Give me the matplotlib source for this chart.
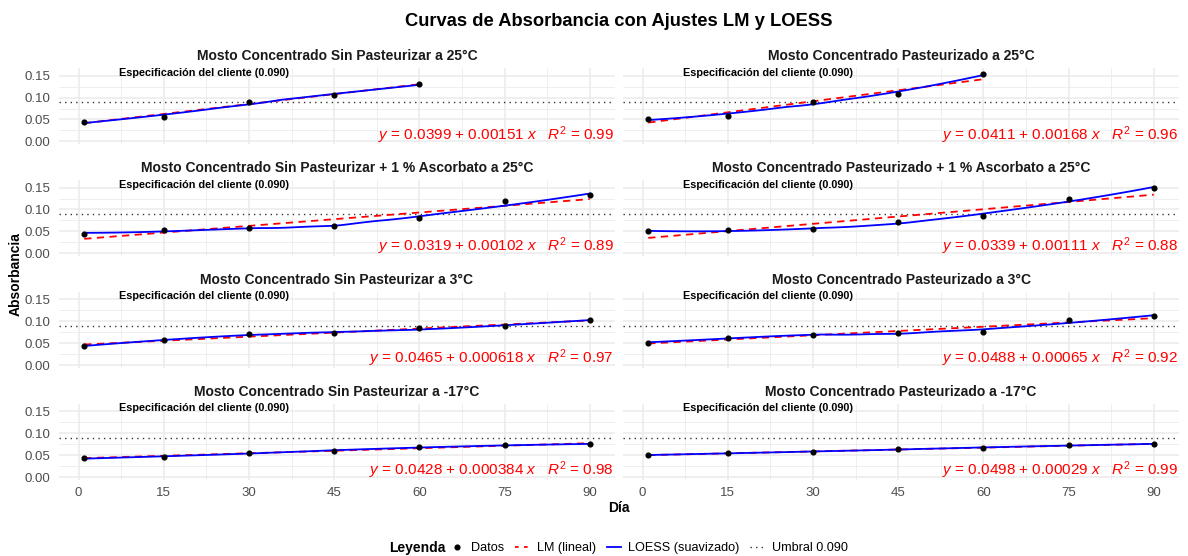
import numpy as np
import matplotlib
matplotlib.use("Agg")
import matplotlib.pyplot as plt
from matplotlib.lines import Line2D
from matplotlib.ticker import MultipleLocator

plt.rcParams["font.family"] = ["Liberation Sans", "DejaVu Sans"]
plt.rcParams["mathtext.fontset"] = "custom"
plt.rcParams["mathtext.rm"] = "Liberation Sans"
plt.rcParams["mathtext.it"] = "Liberation Sans:italic"
plt.rcParams["mathtext.bf"] = "Liberation Sans:bold"

# ---- data -------------------------------------------------------------
panel_titles = [
    "Mosto Concentrado Sin Pasteurizar a 25°C",
    "Mosto Concentrado Pasteurizado a 25°C",
    "Mosto Concentrado Sin Pasteurizar + 1 % Ascorbato a 25°C",
    "Mosto Concentrado Pasteurizado + 1 % Ascorbato a 25°C",
    "Mosto Concentrado Sin Pasteurizar a 3°C",
    "Mosto Concentrado Pasteurizado a 3°C",
    "Mosto Concentrado Sin Pasteurizar a -17°C",
    "Mosto Concentrado Pasteurizado a -17°C",
]

days_short = [1, 15, 30, 45, 60]
days_full = [1, 15, 30, 45, 60, 75, 90]

sp25 = [0.0434, 0.0563, 0.0890, 0.1050, 0.1300]
p25 = [0.0500, 0.0590, 0.0900, 0.1090, 0.1530]
sp25_asc = [0.0443, 0.0525, 0.0585, 0.0615, 0.0810, 0.1185, 0.1320]
p25_asc = [0.0504, 0.0520, 0.0550, 0.0706, 0.0860, 0.1240, 0.1490]
sp3 = [0.0431, 0.0577, 0.0715, 0.0723, 0.0838, 0.0892, 0.1038]
p3 = [0.0508, 0.0623, 0.0692, 0.0738, 0.0762, 0.1038, 0.1115]
sp17 = [0.0427, 0.0458, 0.0549, 0.0603, 0.0679, 0.0725, 0.0755]
p17 = [0.0503, 0.0542, 0.0580, 0.0633, 0.0671, 0.0725, 0.0755]

panel_days = [days_short, days_short, days_full, days_full,
              days_full, days_full, days_full, days_full]
panel_values = [sp25, p25, sp25_asc, p25_asc, sp3, p3, sp17, p17]

# linear model coefficients and R^2 for each panel
lm_intercept = [0.0399, 0.0411, 0.0319, 0.0339, 0.0465, 0.0488, 0.0428, 0.0498]
lm_slope = [0.00151, 0.00168, 0.00102, 0.00111, 0.000618, 0.00065, 0.000384, 0.00029]
lm_r2 = [0.99, 0.96, 0.89, 0.88, 0.97, 0.92, 0.98, 0.99]

threshold = 0.090
spec_label = "Especificación del cliente (0.090)"
x_ticks = [0, 15, 30, 45, 60, 75, 90]
y_ticks = [0.00, 0.05, 0.10, 0.15]


def loess(x, y, grid, span=0.75, widen=1.5):
    """Local quadratic regression with tricube weights."""
    x = np.asarray(x, float)
    y = np.asarray(y, float)
    n = len(x)
    q = max(int(np.floor(n * span)), 4)
    out = []
    for x0 in grid:
        d = np.abs(x - x0)
        h = np.sort(d)[q - 1] * widen
        w = np.clip(1 - (d / h) ** 3, 0, None) ** 3
        X = np.column_stack([np.ones(n), x - x0, (x - x0) ** 2])
        sw = np.sqrt(w)
        beta, *_ = np.linalg.lstsq(X * sw[:, None], y * sw, rcond=None)
        out.append(beta[0])
    return np.array(out)


# ---- layout -----------------------------------------------------------
W, H = 1188, 556
fig = plt.figure(figsize=(W / 100, H / 100), dpi=100)

col_x = [(59, 615), (623, 1179)]
row_top0, row_bot0, row_step = 68.3, 144.3, 111.9
xlim = (-3.45, 94.45)
ylim = (-0.0068, 0.1669)

grid_major = "#EBEBEB"
tick_color = "#4D4D4D"

for i in range(8):
    r, c = divmod(i, 2)
    x0, x1 = col_x[c]
    top = row_top0 + row_step * r
    bot = row_bot0 + row_step * r
    ax = fig.add_axes([x0 / W, 1 - bot / H, (x1 - x0) / W, (bot - top) / H])
    ax.set_xlim(*xlim)
    ax.set_ylim(*ylim)
    for s in ax.spines.values():
        s.set_visible(False)
    ax.set_xticks(x_ticks)
    ax.set_yticks(y_ticks)
    ax.xaxis.set_minor_locator(MultipleLocator(7.5))
    ax.yaxis.set_minor_locator(MultipleLocator(0.025))
    ax.grid(which="major", color=grid_major, lw=1.1)
    ax.grid(which="minor", color=grid_major, lw=0.55)
    ax.set_axisbelow(True)
    ax.tick_params(which="both", length=0, colors=tick_color, labelsize=9.5)
    ax.tick_params(axis="y", pad=6)
    ax.tick_params(axis="x", pad=5)
    if c == 0:
        ax.set_yticklabels([f"{v:.2f}" for v in y_ticks])
    else:
        ax.set_yticklabels([])
    if r == 3:
        ax.set_xticklabels([str(v) for v in x_ticks])
    else:
        ax.set_xticklabels([])

    xs = np.asarray(panel_days[i], float)
    ys = np.asarray(panel_values[i], float)

    ax.axhline(threshold, color="#333333", lw=1.0, ls=(0, (1, 3)), zorder=2)

    xl = np.linspace(xs.min(), xs.max(), 80)
    ax.plot(xl, lm_intercept[i] + lm_slope[i] * xl, color="#FF0000",
            lw=1.3, ls=(0, (4, 3)), zorder=3)
    ax.plot(xl, loess(xs, ys, xl), color="#0000FF", lw=1.3, zorder=4)
    ax.plot(xs, ys, "o", color="black", ms=3.4, zorder=5)

    ax.text(22, 0.157, spec_label, ha="center", va="center",
            fontsize=7.8, fontweight="bold", color="black")

    eq = (f"$y$ = {lm_intercept[i]:.3g} + {lm_slope[i]:.3g} $x$   "
          f"$R^2$ = {lm_r2[i]:.2f}")
    ax.text(0.998, 0.004, eq, transform=ax.get_yaxis_transform(),
            ha="right", va="baseline", fontsize=11, color="#FF0000")

    ax.text(0.5, 1 + 12 / (bot - top), panel_titles[i], transform=ax.transAxes,
            ha="center", va="center", fontsize=10, fontweight="bold",
            color="#1A1A1A")

# ---- figure-level text -------------------------------------------------
fig.text(619 / W, 1 - 22 / H, "Curvas de Absorbancia con Ajustes LM y LOESS",
         ha="center", va="center", fontsize=13.2, fontweight="bold")
fig.text(16 / W, 1 - 274 / H, "Absorbancia", rotation=90, ha="center",
         va="center", fontsize=10, fontweight="bold")
fig.text(619 / W, 1 - 508 / H, "Día", ha="center", va="center",
         fontsize=10, fontweight="bold")

fig.text(446 / W, 1 - 548 / H, "Leyenda", ha="right", va="center",
         fontsize=10, fontweight="bold")
handles = [
    Line2D([], [], marker="o", color="black", ls="none", ms=3.4),
    Line2D([], [], color="#FF0000", lw=1.3, ls=(0, (2, 3))),
    Line2D([], [], color="#0000FF", lw=1.3),
    Line2D([], [], color="#333333", lw=1.0, ls=(0, (1, 3))),
]
labels = ["Datos", "LM (lineal)", "LOESS (suavizado)", "Umbral 0.090"]
fig.legend(handles, labels, loc="center left",
           bbox_to_anchor=(450 / W, 1 - 548 / H), ncol=4, frameon=False,
           fontsize=9.1, handlelength=1.1, handletextpad=0.6,
           columnspacing=0.85, borderaxespad=0, borderpad=0)

fig.savefig("out.png", dpi=100)
